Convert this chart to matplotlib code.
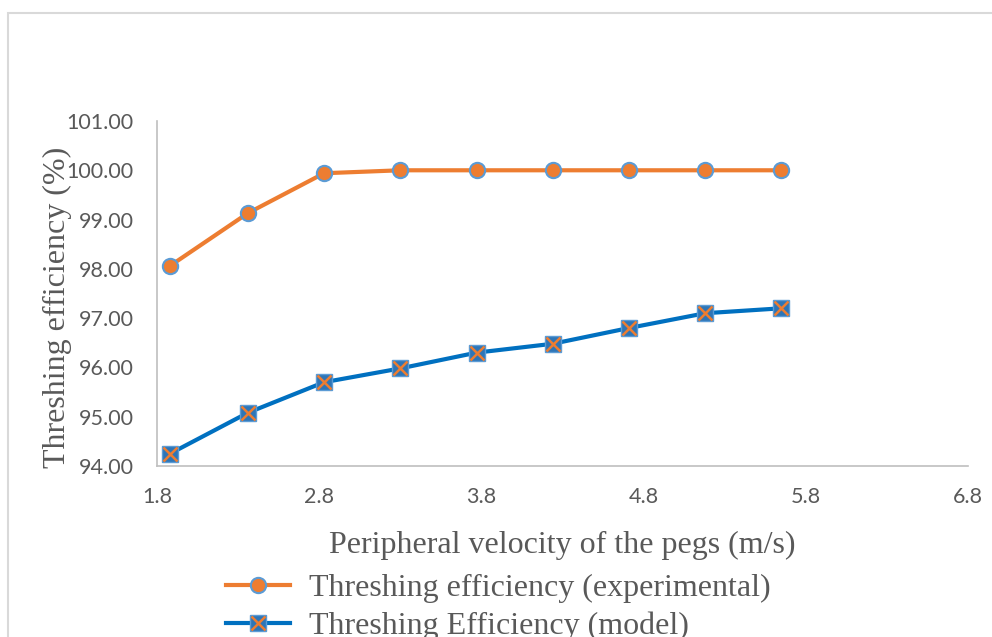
import numpy as np
import matplotlib as mp
mp.use("Agg")
import matplotlib.pyplot as plt
from matplotlib.patches import Rectangle
from matplotlib.legend_handler import HandlerTuple
from matplotlib.ticker import FormatStrFormatter

## DATA ##
velocity = [1.88, 2.36, 2.83, 3.30, 3.77, 4.24, 4.71, 5.18, 5.65]
eff_experimental = [98.06, 99.13, 99.94, 100.00, 100.00, 100.00, 100.00, 100.00, 100.00]
eff_model = [94.25, 95.08, 95.70, 95.98, 96.30, 96.48, 96.80, 97.10, 97.20]
x_ticks = [1.8, 2.8, 3.8, 4.8, 5.8, 6.8]
y_ticks = [94, 95, 96, 97, 98, 99, 100, 101]

orange = "#ED7D31"
blue = "#0070C0"
lightblue = "#5B9BD5"
gray = "#595959"

fig = plt.figure(figsize=(9.92, 6.37), dpi=100)
ax = fig.add_axes([157/992, 1-466/637, (968-157)/992, (466-121)/637])

l1, = ax.plot(velocity, eff_experimental, color=orange, lw=3, marker="o", ms=11,
              mfc=orange, mec=lightblue, mew=1.5, zorder=3)
l2, = ax.plot(velocity, eff_model, color=blue, lw=3, marker="s", ms=11,
              mfc="#2E75B6", mec=lightblue, mew=1, zorder=3)
l2x, = ax.plot(velocity, eff_model, ls="none", marker="x", ms=10,
               mec=orange, mew=1.8, zorder=4)

ax.set_xlim(1.8, 6.8)
ax.set_ylim(94, 101)
ax.set_xticks(x_ticks)
ax.set_yticks(y_ticks)
ax.yaxis.set_major_formatter(FormatStrFormatter("%.2f"))
ax.xaxis.set_major_formatter(FormatStrFormatter("%.1f"))
ax.tick_params(length=0, labelsize=15.5, labelcolor=gray)
ax.tick_params(axis="y", pad=17)
ax.tick_params(axis="x", pad=15)
for lab in ax.get_xticklabels() + ax.get_yticklabels():
    lab.set_family("Lato")
for side in ["top", "right"]:
    ax.spines[side].set_visible(False)
for side in ["left", "bottom"]:
    ax.spines[side].set_color("#BFBFBF")
    ax.spines[side].set_linewidth(1.2)

ax.set_xlabel("Peripheral velocity of the pegs (m/s)", family="Liberation Serif",
              fontsize=23, color=gray, labelpad=17)
ax.set_ylabel("Threshing efficiency (%)", family="Liberation Serif",
              fontsize=23, color=gray, labelpad=-4)
ax.yaxis.label.set_y(0.46)

fig.legend([l1, (l2, l2x)],
           ["Threshing efficiency (experimental)", "Threshing Efficiency (model)"],
           handler_map={tuple: HandlerTuple(ndivide=1)},
           loc="upper left", bbox_to_anchor=(226/992, 1-574/637), frameon=False,
           prop={"family": "Liberation Serif", "size": 23}, labelcolor=gray,
           handlelength=2.0, handletextpad=0.6, labelspacing=0.25, borderpad=0,
           borderaxespad=0)

## chart frame ##
fig.patches.append(Rectangle((8/992, -0.2), 1.2, 1.2 - 13/637, transform=fig.transFigure,
                             fill=False, ec="#D9D9D9", lw=1.5))

fig.savefig("out.png", dpi=100)
